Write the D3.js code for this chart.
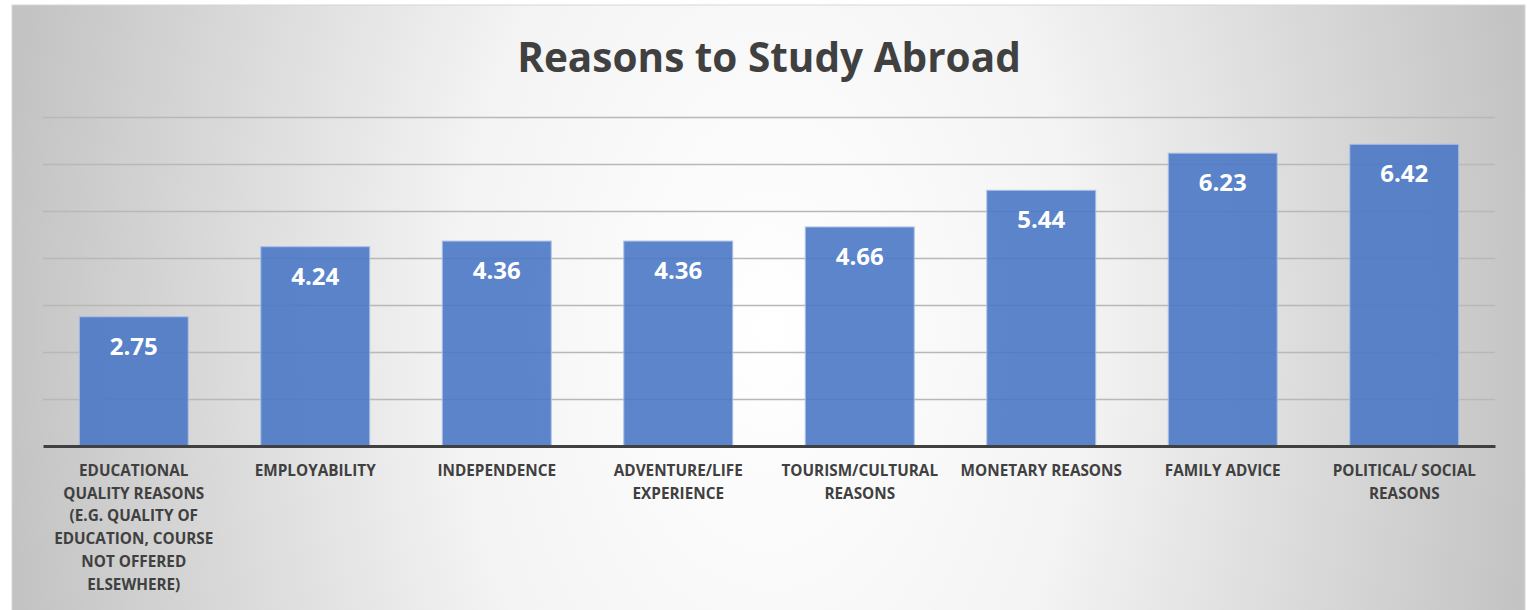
<!DOCTYPE html>
<html>
<head>
<meta charset="utf-8">
<script src="https://cdn.jsdelivr.net/npm/d3@7"></script>
<style>
    html, body { margin: 0; padding: 0; background: #fff; }
    svg { display: block; }
</style>
</head>
<body>
<svg width="1527" height="610"></svg>
<script>
var categories = [
    "EDUCATIONAL\nQUALITY REASONS\n(E.G. QUALITY OF\nEDUCATION, COURSE\nNOT OFFERED\nELSEWHERE)",
    "EMPLOYABILITY",
    "INDEPENDENCE",
    "ADVENTURE/LIFE\nEXPERIENCE",
    "TOURISM/CULTURAL\nREASONS",
    "MONETARY REASONS",
    "FAMILY ADVICE",
    "POLITICAL/ SOCIAL\nREASONS"
];
var values = [2.75, 4.24, 4.36, 4.36, 4.66, 5.44, 6.23, 6.42];
var yTicks = [0, 1, 2, 3, 4, 5, 6, 7];
var title = "Reasons to Study Abroad";

(function(d3) {
    "use strict";

    var svg = d3.select("svg"),
        font = "'Open Sans', 'DejaVu Sans', sans-serif",
        data = categories.map(function(c, i) {
            return { cat: c, value: values[i] };
        }),

        x = d3.scaleBand().domain(categories).range([43, 1495]).paddingInner(0.4).paddingOuter(0.2),
        y = d3.scaleLinear().domain([0, 7]).range([446, 117]);

    // chart area background, grey edges fading to a white centre
    var defs = svg.append("defs");
    var grad = defs.append("radialGradient")
        .attr("id", "bg")
        .attr("gradientUnits", "userSpaceOnUse")
        .attr("cx", 770).attr("cy", 330).attr("r", 770)
        .attr("gradientTransform", "translate(770,330) scale(1,1.6) translate(-770,-330)");
    grad.append("stop").attr("offset", 0).attr("stop-color", "#ffffff");
    grad.append("stop").attr("offset", 0.4).attr("stop-color", "#f4f4f4");
    grad.append("stop").attr("offset", 1).attr("stop-color", "#c3c3c3");

    svg.append("rect")
        .attr("x", 12).attr("y", 5)
        .attr("width", 1513).attr("height", 620)
        .attr("fill", "url(#bg)")
        .attr("stroke", "#d6d6d6")
        .attr("stroke-width", 1);

    svg.append("text")
        .attr("x", 769).attr("y", 72)
        .attr("text-anchor", "middle")
        .attr("font-family", font)
        .attr("font-weight", 700)
        .attr("font-size", 40.5)
        .attr("fill", "#404040")
        .text(title);

    // gridlines
    var yAxis = d3.axisLeft(y).tickValues(yTicks.slice(1)).tickSize(-(1495 - 43)).tickFormat("");
    svg.append("g")
        .attr("transform", "translate(43,0)")
        .call(yAxis)
        .call(function(g) {
            g.select(".domain").remove();
            g.selectAll(".tick line").attr("stroke", "#b8b8b8").attr("stroke-width", 1.5);
        });

    // bars
    svg.append("g").selectAll("rect")
        .data(data)
        .enter().append("rect")
        .attr("x", function(d) { return x(d.cat); })
        .attr("y", function(d) { return y(d.value); })
        .attr("width", x.bandwidth())
        .attr("height", function(d) { return y(0) - y(d.value); })
        .attr("fill", "#4a78c6")
        .attr("fill-opacity", 0.9)
        .attr("stroke", "#a9c0e6")
        .attr("stroke-width", 1);

    // value labels inside bar tops
    svg.append("g").selectAll("text")
        .data(data)
        .enter().append("text")
        .attr("x", function(d) { return x(d.cat) + x.bandwidth() / 2; })
        .attr("y", function(d) { return y(d.value) + 38; })
        .attr("text-anchor", "middle")
        .attr("font-family", font)
        .attr("font-weight", 700)
        .attr("font-size", 24)
        .attr("fill", "#ffffff")
        .text(function(d) { return d3.format(".2f")(d.value); });

    // category axis
    var xAxis = d3.axisBottom(x).tickSize(0).tickFormat("");
    var xg = svg.append("g")
        .attr("transform", "translate(0," + y(0) + ")")
        .call(xAxis);
    xg.select(".domain").attr("stroke", "#404040").attr("stroke-width", 3);

    xg.selectAll(".tick").append("text")
        .attr("text-anchor", "middle")
        .attr("font-family", font)
        .attr("font-weight", 700)
        .attr("font-size", 15.3)
        .attr("fill", "#404040")
        .each(function(d) {
            var t = d3.select(this);
            d.split("\n").forEach(function(line, i) {
                t.append("tspan").attr("x", 0).attr("y", 30 + i * 22.7).text(line);
            });
        });

}(d3));
</script>
</body>
</html>
